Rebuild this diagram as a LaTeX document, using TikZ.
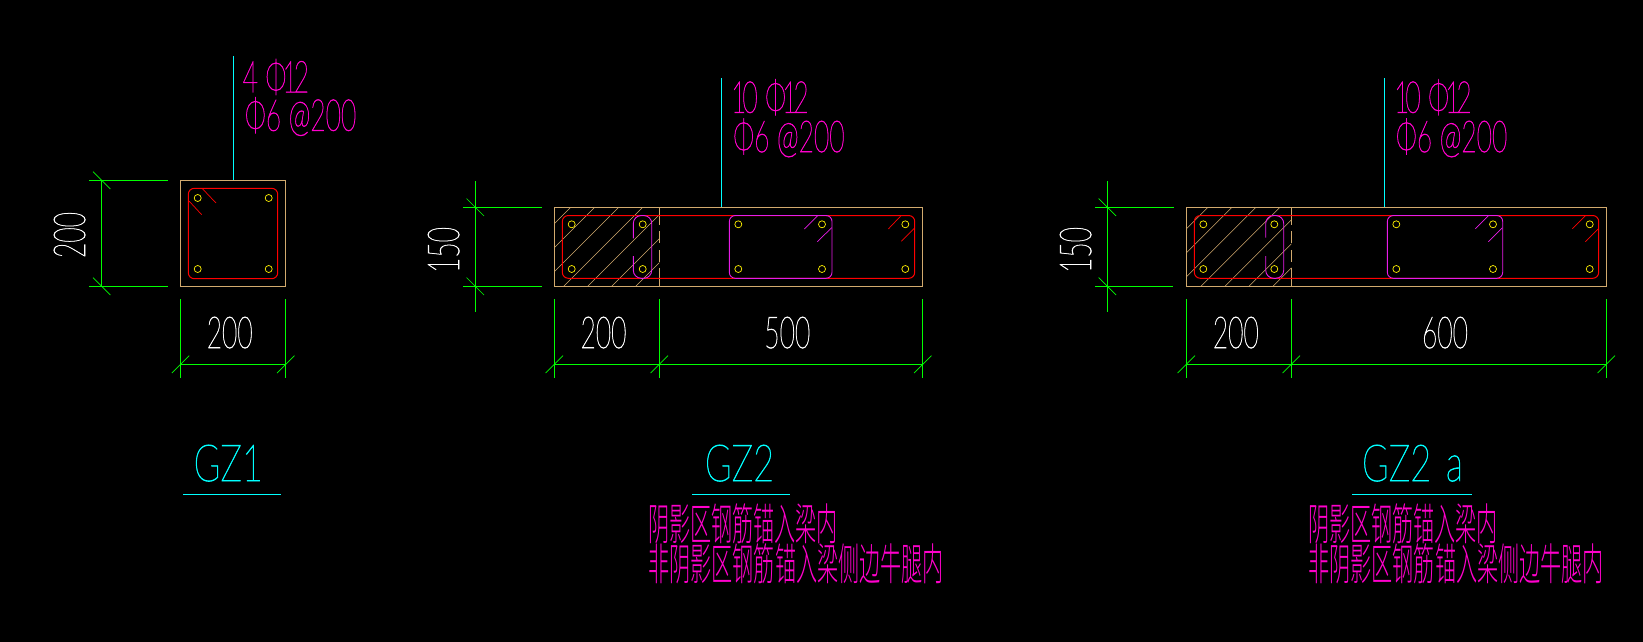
\documentclass[tikz,border=0pt]{standalone}
\usepackage{fontspec}
\newfontfamily\cadfont[FakeBold=1.6]{Lato Hairline}
\newfontfamily\cjkfont{Noto Sans CJK SC Light}
\newcommand{\barsym}{Φ\hspace{-0.15em}1\hspace{-0.15em}2}
\begin{document}
\begin{tikzpicture}[x=1pt,y=-1pt,every node/.style={inner sep=0pt,outer sep=0pt,transform shape}]
\definecolor{cadtan}{HTML}{D2AA6E}
\definecolor{cadpink}{HTML}{FF00CC}
\definecolor{cadtie}{HTML}{E81CE8}
\definecolor{cadcyan}{HTML}{00FFFF}
\definecolor{cadgreen}{HTML}{00FF00}
\tikzstyle{dim_line}=[cadgreen,line width=0.9pt]
\tikzstyle{tick_line}=[cadgreen,line width=0.7pt]
\tikzstyle{outline}=[cadtan,line width=0.9pt]
\tikzstyle{hatch_line}=[cadtan,line width=0.6pt]
\tikzstyle{stirrup}=[red,line width=1pt,rounded corners=6pt]
\tikzstyle{tie}=[cadtie,line width=0.9pt,rounded corners=6pt]
\tikzstyle{hook_red}=[red,line width=0.7pt]
\tikzstyle{hook_tie}=[cadtie,line width=0.7pt]
\tikzstyle{rebar}=[yellow,line width=0.7pt]
\tikzstyle{leader}=[cadcyan,line width=1pt]
\tikzstyle{dim_text}=[white,font=\cadfont\fontsize{44}{44}\selectfont,xscale=0.6,anchor=base]
\tikzstyle{dim_vtext}=[white,font=\cadfont\fontsize{44}{44}\selectfont,rotate=90,xscale=0.6,anchor=base]
\tikzstyle{bar_text}=[cadpink,font=\cadfont\fontsize{44}{44}\selectfont,xscale=0.6,anchor=base west]
\tikzstyle{title_text}=[cadcyan,font=\cadfont\fontsize{51}{51}\selectfont,xscale=0.71,anchor=base]
\tikzstyle{note_text}=[cadpink,font=\cjkfont\fontsize{44}{44}\selectfont,xscale=0.48,anchor=base west]

\fill[black] (0,0) rectangle (1643,642);
\useasboundingbox (0,0) rectangle (1643,642);

\coordinate (a_top) at (233.3,56);
\coordinate (a_end) at (233.3,180.3);
\draw [leader] (a_top) -- (a_end);
\node (a_bars) at (242.7,92.3) [bar_text] {4 \barsym};
\node (a_hoop) at (245,130.7) [bar_text] {Φ6 @200};
\draw [outline] (180.5,180.3) rectangle (285.7,286.3);
\draw [stirrup] (188.3,188.3) rectangle (277.7,278.7);
\draw [hook_red] (202.7,189) -- (216,203);
\draw [hook_red] (189,201) -- (201.7,214.7);
\foreach \x in {197.7,268.7} \foreach \y in {198,269} \draw [rebar] (\x,\y) circle (3.5pt);
\draw [dim_line] (89,180.3) -- (168,180.3);
\draw [dim_line] (89,286.3) -- (168,286.3);
\draw [dim_line] (101.7,180.3) -- (101.7,286.3);
\foreach \y in {180.3,286.3} \draw [tick_line] (93,\y-8.7) -- (110.4,\y+8.7);
\node (a_height) at (85,235) [dim_vtext] {200};
\draw [dim_line] (180.5,299) -- (180.5,377.7);
\draw [dim_line] (285.7,299) -- (285.7,377.7);
\draw [dim_line] (180.5,364.3) -- (285.7,364.3);
\foreach \x in {180.5,285.7} \draw [tick_line] (\x-8.7,373) -- (\x+8.7,355.6);
\node (a_width) at (229.7,348) [dim_text] {200};
\node (a_title) at (228.3,481) [title_text] {GZ1};
\draw [leader] (183,494.3) -- (281,494.3);

\coordinate (b_top) at (721.3,78);
\coordinate (b_end) at (721.3,207.3);
\draw [leader] (b_top) -- (b_end);
\node (b_bars) at (731,112.7) [bar_text] {1\hspace{-0.15em}0 \barsym};
\node (b_hoop) at (733.3,152) [bar_text] {Φ6 @200};
\begin{scope}
\clip (554.3,207.3) rectangle (659.3,286.3);
\foreach \c in {778,802,826,850,874,898,922} \draw [hatch_line] (\c-300,300) -- (\c-200,200);
\end{scope}
\draw [outline] (554.3,207.3) rectangle (922.7,286.3);
\draw [outline,dash pattern=on 18pt off 6pt on 12pt off 7pt on 12pt off 6pt on 18pt off 0pt] (659.3,207.3) -- (659.3,286.3);
\draw [stirrup] (562.3,215.5) rectangle (914.7,278.3);
\draw [tie,rounded corners=8pt] (633.3,238.3) -- (633.3,215.5) -- (651.7,215.5) -- (651.7,278.3) -- (633.3,278.3) -- (633.3,256);
\draw [tie] (729.3,215.5) rectangle (832,278.3);
\draw [hook_tie] (804.3,229) -- (817.7,215.7);
\draw [hook_tie] (817.3,241.7) -- (831.7,227.7);
\draw [hook_red] (888.3,229) -- (901,215.7);
\draw [hook_red] (901.3,241.3) -- (914.3,228.3);
\foreach \x in {571.7,642.7,738.3,822,905.3} \foreach \y in {224.3,269} \draw [rebar] (\x,\y) circle (3.5pt);
\draw [dim_line] (463,207.3) -- (542,207.3);
\draw [dim_line] (463,286.3) -- (542,286.3);
\draw [dim_line] (475.3,181) -- (475.3,311.7);
\foreach \y in {207.3,286.3} \draw [tick_line] (466.6,\y-8.7) -- (484,\y+8.7);
\node (b_height) at (459,250) [dim_vtext] {150};
\foreach \x in {554.3,659.3,922.7} \draw [dim_line] (\x,299) -- (\x,377.7);
\draw [dim_line] (554.3,364.3) -- (922.7,364.3);
\foreach \x in {554.3,659.3,922.7} \draw [tick_line] (\x-8.7,373) -- (\x+8.7,355.6);
\node (b_left) at (603.5,348) [dim_text] {200};
\node (b_right) at (787.3,348) [dim_text] {500};
\node (b_title) at (739.5,481) [title_text] {GZ2};
\draw [leader] (692,494.3) -- (790,494.3);
\node (b_note_a) at (648,540) [note_text] {阴影区钢筋锚入梁内};
\node (b_note_b) at (648.3,580) [note_text] {非阴影区钢筋锚入梁侧边牛腿内};

\coordinate (c_top) at (1384.3,78);
\coordinate (c_end) at (1384.3,207.3);
\draw [leader] (c_top) -- (c_end);
\node (c_bars) at (1394,112.7) [bar_text] {1\hspace{-0.15em}0 \barsym};
\node (c_hoop) at (1396,152) [bar_text] {Φ6 @200};
\begin{scope}
\clip (1186.3,207.3) rectangle (1291.3,286.3);
\foreach \c in {1415.3,1439.3,1463.3,1487.3,1511.3,1535.3,1559.3} \draw [hatch_line] (\c-300,300) -- (\c-200,200);
\end{scope}
\draw [outline] (1186.3,207.3) rectangle (1606.3,286.3);
\draw [outline,dash pattern=on 18pt off 6pt on 12pt off 7pt on 12pt off 6pt on 18pt off 0pt] (1291.3,207.3) -- (1291.3,286.3);
\draw [stirrup] (1194.3,215.5) rectangle (1598.7,278.3);
\draw [tie,rounded corners=8pt] (1265.7,237.7) -- (1265.7,215.5) -- (1283.7,215.5) -- (1283.7,278.3) -- (1265.7,278.3) -- (1265.7,256);
\draw [tie] (1387.3,215.5) rectangle (1502.7,278.3);
\draw [hook_tie] (1475.3,228.7) -- (1488.3,215.7);
\draw [hook_tie] (1488.3,241.7) -- (1502.3,227.7);
\draw [hook_red] (1572.3,228.7) -- (1585.3,215.7);
\draw [hook_red] (1585.3,241.7) -- (1598.3,228.7);
\foreach \x in {1203.3,1274.3,1396.3,1493,1589.7} \foreach \y in {224.3,269} \draw [rebar] (\x,\y) circle (3.5pt);
\draw [dim_line] (1095,207.3) -- (1174,207.3);
\draw [dim_line] (1095,286.3) -- (1173,286.3);
\draw [dim_line] (1107.3,181) -- (1107.3,311.7);
\foreach \y in {207.3,286.3} \draw [tick_line] (1098.6,\y-8.7) -- (1116,\y+8.7);
\node (c_height) at (1091,250) [dim_vtext] {150};
\foreach \x in {1186.3,1291.3,1606.3} \draw [dim_line] (\x,299) -- (\x,377.7);
\draw [dim_line] (1186.3,364.3) -- (1606.3,364.3);
\foreach \x in {1186.3,1291.3,1606.3} \draw [tick_line] (\x-8.7,373) -- (\x+8.7,355.6);
\node (c_left) at (1235.8,348) [dim_text] {200};
\node (c_right) at (1445,348) [dim_text] {600};
\node (c_title) at (1412.5,481) [title_text] {GZ2\hspace{0.12em} a};
\draw [leader] (1352,494.3) -- (1472,494.3);
\node (c_note_a) at (1308,540) [note_text] {阴影区钢筋锚入梁内};
\node (c_note_b) at (1308.3,580) [note_text] {非阴影区钢筋锚入梁侧边牛腿内};
\end{tikzpicture}
\end{document}
